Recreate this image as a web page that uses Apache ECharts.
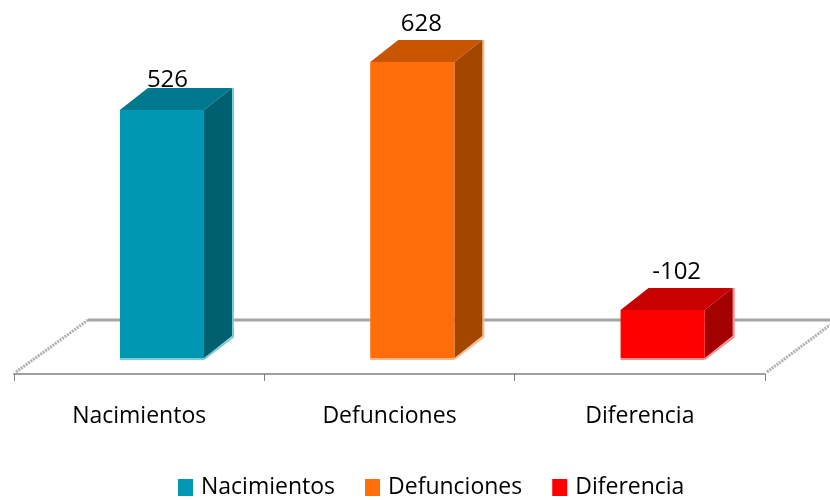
<!DOCTYPE html>
<html><head><meta charset="utf-8">
<style>html,body{margin:0;padding:0;background:#fff}#c{width:830px;height:500px}</style>
<script src="https://cdn.jsdelivr.net/npm/echarts@6/dist/echarts.min.js"></script>
</head><body><div id="c"></div>
<script>
const categories = ['Nacimientos', 'Defunciones', 'Diferencia'];
const values = [526, 628, -102];
const frontColors = ['#0097B2', '#FF6E0A', '#FF0000'];
const topColors = ['#00788E', '#C85500', '#C80000'];
const sideColors = ['#006070', '#A34700', '#A30000'];
const edgeColors = ['#7CCBD9', '#FFB585', '#FF8A8A'];
const labelDx = [5.5, 9, 14];
const labelDy = [5, -3, -3];

const FONT = '"Open Sans", sans-serif';
const depthX = 28, depthY = 22;
const chart = echarts.init(document.getElementById('c'));

function floorItem(params, api) {
  const s = params.coordSys;
  const x0 = s.x, x1 = s.x + s.width, yF = s.y + s.height + 16, yB = yF - 54, dx = 74;
  const line = (a, b, c, d, st) => ({ type: 'line', shape: { x1: a, y1: b, x2: c, y2: d }, style: st });
  const diag = { stroke: '#b0b0b0', lineWidth: 3, lineDash: [2, 1] };
  return { type: 'group', children: [
    line(x0 + dx, yB, 830, yB, { stroke: '#a6a6a6', lineWidth: 3 }),
    line(x0 + 2, yF - 2, x0 + dx, yB, diag),
    line(x1 + 2, yF - 2, 830, yB + 5, diag)
  ]};
}

function barItem(idx) {
  return function (params, api) {
    const cat = api.value(0), val = api.value(1);
    const base = api.coord([cat, 0]);
    const top = api.coord([cat, Math.abs(val)]);
    const w = api.size([1, 0])[0] * 0.336;
    const cx = base[0] + 22.8;
    const l = cx - w / 2, r = cx + w / 2, yT = top[1], yB = base[1];
    const poly = (pts, fill) => ({ type: 'polygon', shape: { points: pts }, style: { fill: fill } });
    return { type: 'group', children: [
      { type: 'polyline', shape: { points: [[r, yB + 1], [r + depthX + 1, yB - depthY + 1], [r + depthX + 1, yT - depthY]] },
        style: { stroke: edgeColors[idx], lineWidth: 2, fill: null } },
      poly([[l, yT], [l + depthX, yT - depthY], [r + depthX, yT - depthY], [r, yT]], topColors[idx]),
      poly([[r, yT], [r + depthX, yT - depthY], [r + depthX, yB - depthY], [r, yB]], sideColors[idx]),
      { type: 'rect', shape: { x: l, y: yT, width: w, height: yB - yT }, style: { fill: frontColors[idx] } },
      { type: 'rect', shape: { x: l, y: yB, width: w, height: 2 }, style: { fill: edgeColors[idx] } },
      { type: 'text', x: cx + labelDx[idx] , y: yT - depthY - 1 + labelDy[idx],
        style: { text: String(val), fill: '#000', font: '24px ' + FONT, textAlign: 'center', textVerticalAlign: 'bottom' }, z2: 100 }
    ]};
  };
}

chart.setOption({
  animation: false,
  backgroundColor: '#fff',
  grid: { left: 14, right: 65, top: 28, height: 330 },
  legend: {
    data: categories, left: 173, top: 471, itemWidth: 15, itemHeight: 17, itemGap: 30,
    icon: 'rect', textStyle: { fontFamily: FONT, fontSize: 23, color: '#000', padding: [0, 0, 0, 3] }
  },
  xAxis: {
    type: 'category', data: categories, offset: 16,
    axisLine: { onZero: false, lineStyle: { color: '#a0a0a0', width: 2 } },
    axisTick: { show: true, length: 7, alignWithLabel: false, lineStyle: { color: '#808080', width: 1 } },
    axisLabel: { color: '#000', fontFamily: FONT, fontSize: 23, margin: 31 }
  },
  yAxis: { type: 'value', min: 0, max: 700, show: false, splitLine: { show: false } },
  series: [
    { name: 'floor', type: 'custom', renderItem: floorItem, data: [[0, 0]], z: 1, silent: true },
    ...categories.map((name, i) => ({
      name: name, type: 'custom', renderItem: barItem(i), z: 3,
      itemStyle: { color: frontColors[i] },
      data: [[i, values[i]]], encode: { x: 0, y: 1 }
    }))
  ]
});
</script></body></html>
